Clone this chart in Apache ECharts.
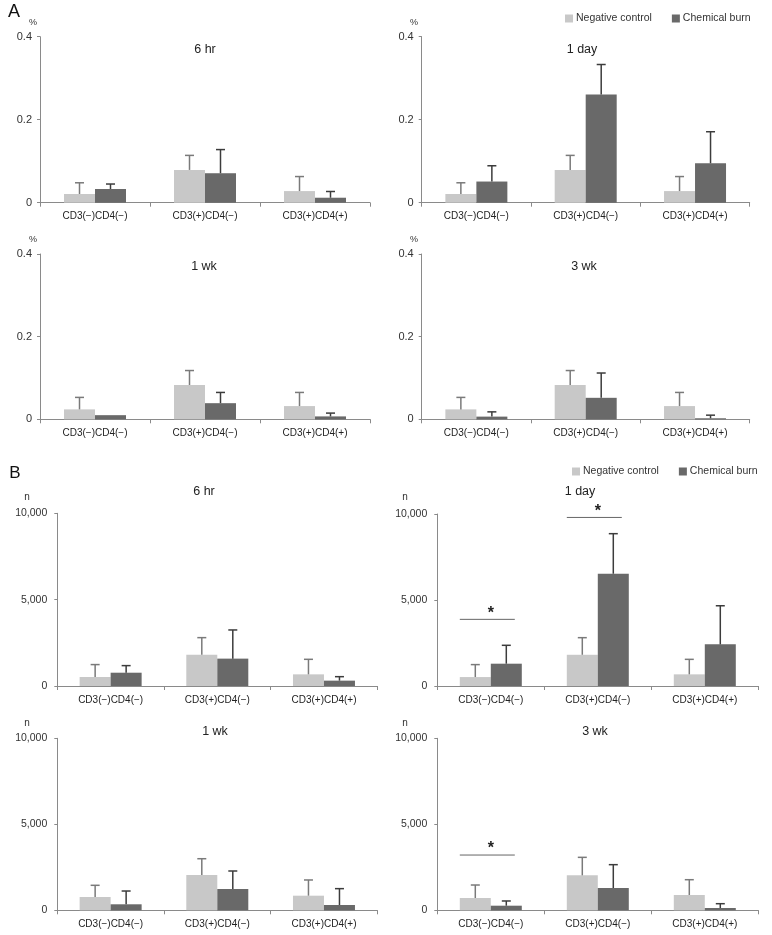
<!DOCTYPE html>
<html>
<head>
<meta charset="utf-8">
<script src="https://cdn.jsdelivr.net/npm/echarts@6/dist/echarts.min.js"></script>
<style>
html,body{margin:0;padding:0;background:#fff;}
#chart{width:772px;height:935px;}
</style>
</head>
<body>
<div id="chart"></div>
<script>
// ---------- data ----------
const categories = ['CD3(\u2212)CD4(\u2212)', 'CD3(+)CD4(\u2212)', 'CD3(+)CD4(+)'];
const seriesNames = ['Negative control', 'Chemical burn'];
const panelTitles = ['6 hr', '1 day', '1 wk', '3 wk'];
const yTicksA = [0, 0.2, 0.4];
const yTickLabelsA = ['0', '0.2', '0.4'];
const yTicksB = [0, 5000, 10000];
const yTickLabelsB = ['0', '5,000', '10,000'];

// Panel A (%)  — mean and top of error bar
const pct6hrNeg = [0.021, 0.079, 0.028];
const pct6hrNegTop = [0.048, 0.114, 0.063];
const pct6hrBurn = [0.033, 0.071, 0.012];
const pct6hrBurnTop = [0.045, 0.128, 0.027];

const pct1dNeg = [0.021, 0.079, 0.028];
const pct1dNegTop = [0.048, 0.114, 0.063];
const pct1dBurn = [0.051, 0.261, 0.095];
const pct1dBurnTop = [0.089, 0.333, 0.171];

const pct1wNeg = [0.024, 0.083, 0.032];
const pct1wNegTop = [0.053, 0.118, 0.065];
const pct1wBurn = [0.010, 0.039, 0.007];
const pct1wBurnTop = [0.010, 0.065, 0.015];

const pct3wNeg = [0.024, 0.083, 0.032];
const pct3wNegTop = [0.053, 0.118, 0.065];
const pct3wBurn = [0.0065, 0.052, 0.0025];
const pct3wBurnTop = [0.018, 0.112, 0.010];

// Panel B (n)
const n6hrNeg = [520, 1810, 675];
const n6hrNegTop = [1240, 2800, 1545];
const n6hrBurn = [770, 1585, 310];
const n6hrBurnTop = [1180, 3245, 540];

const n1dNeg = [520, 1815, 678];
const n1dNegTop = [1244, 2810, 1550];
const n1dBurn = [1297, 6527, 2421];
const n1dBurnTop = [2366, 8856, 4665];

const n1wNeg = [775, 2051, 850];
const n1wNegTop = [1453, 2999, 1763];
const n1wBurn = [349, 1238, 308];
const n1wBurnTop = [1121, 2285, 1259];

const n3wNeg = [715, 2033, 889];
const n3wNegTop = [1470, 3079, 1779];
const n3wBurn = [268, 1296, 134];
const n3wBurnTop = [542, 2653, 384];

// significance markers: [category index, line level]
const sig1d = [[0, 3875], [1, 9800]];
const sig3w = [[0, 3213]];

// ---------- layout / style ----------
const FONT = '"Liberation Sans", Arial, Helvetica, sans-serif';
const LIGHT = '#c8c8c8', DARK = '#696969';
const AXIS = '#8a8a8a';
const BARW = 31;

const panels = [
  {neg: pct6hrNeg, negTop: pct6hrNegTop, burn: pct6hrBurn, burnTop: pct6hrBurnTop, kind: 'A', title: panelTitles[0], sig: null,
   grid: {left: 40, top: 36.7, width: 330, height: 166}, tx: 205, ty: 50, ux: 33, uy: 23},
  {neg: pct1dNeg, negTop: pct1dNegTop, burn: pct1dBurn, burnTop: pct1dBurnTop, kind: 'A', title: panelTitles[1], sig: null,
   grid: {left: 421.7, top: 36.7, width: 328, height: 166}, tx: 582, ty: 50, ux: 414, uy: 23},
  {neg: pct1wNeg, negTop: pct1wNegTop, burn: pct1wBurn, burnTop: pct1wBurnTop, kind: 'A', title: panelTitles[2], sig: null,
   grid: {left: 40, top: 254, width: 330, height: 165.3}, tx: 204, ty: 267, ux: 33, uy: 240},
  {neg: pct3wNeg, negTop: pct3wNegTop, burn: pct3wBurn, burnTop: pct3wBurnTop, kind: 'A', title: panelTitles[3], sig: null,
   grid: {left: 421.7, top: 254, width: 328, height: 165.3}, tx: 584, ty: 267, ux: 414, uy: 240},
  {neg: n6hrNeg, negTop: n6hrNegTop, burn: n6hrBurn, burnTop: n6hrBurnTop, kind: 'B', title: panelTitles[0], sig: null,
   grid: {left: 57.3, top: 513.3, width: 320, height: 172.7}, tx: 204, ty: 492, ux: 27, uy: 497},
  {neg: n1dNeg, negTop: n1dNegTop, burn: n1dBurn, burnTop: n1dBurnTop, kind: 'B', title: panelTitles[1], sig: sig1d,
   grid: {left: 437.3, top: 514, width: 321, height: 172}, tx: 580, ty: 492, ux: 405, uy: 497},
  {neg: n1wNeg, negTop: n1wNegTop, burn: n1wBurn, burnTop: n1wBurnTop, kind: 'B', title: panelTitles[2], sig: null,
   grid: {left: 57.3, top: 738.3, width: 320, height: 172}, tx: 215, ty: 732, ux: 27, uy: 723},
  {neg: n3wNeg, negTop: n3wNegTop, burn: n3wBurn, burnTop: n3wBurnTop, kind: 'B', title: panelTitles[3], sig: sig3w,
   grid: {left: 437.3, top: 738.3, width: 321, height: 172}, tx: 595, ty: 732, ux: 405, uy: 723}
];

const grids = [], xAxes = [], yAxes = [], series = [], graphics = [];

function errRender(offset, color) {
  return function (params, api) {
    const cat = api.value(0), v = api.value(1), t = api.value(2);
    if (!(t > v)) return null;
    const p0 = api.coord([cat, v]);
    const p1 = api.coord([cat, t]);
    const x = p0[0] + offset;
    const style = {stroke: color, lineWidth: 1.5};
    return {
      type: 'group',
      children: [
        {type: 'line', shape: {x1: x, y1: p0[1], x2: x, y2: p1[1]}, style: style},
        {type: 'line', shape: {x1: x - 4.5, y1: p1[1], x2: x + 4.5, y2: p1[1]}, style: style}
      ]
    };
  };
}

function sigRender(params, api) {
  const cat = api.value(0), lvl = api.value(1);
  const p = api.coord([cat, lvl]);
  return {
    type: 'group',
    children: [
      {type: 'line', shape: {x1: p[0] - 31, y1: p[1], x2: p[0] + 24, y2: p[1]}, style: {stroke: '#666', lineWidth: 1}},
      {type: 'text', style: {x: p[0], y: p[1] - 6, text: '*', fill: '#222', font: 'bold 16px ' + FONT, textAlign: 'center', textVerticalAlign: 'middle'}}
    ]
  };
}

panels.forEach(function (pn, i) {
  grids.push(Object.assign({containLabel: false}, pn.grid));
  const isA = pn.kind === 'A';
  const ticks = isA ? yTicksA : yTicksB;
  const tickLabels = isA ? yTickLabelsA : yTickLabelsB;
  xAxes.push({
    type: 'category', gridIndex: i, data: categories,
    axisLine: {show: true, lineStyle: {color: AXIS, width: 1}},
    axisTick: {show: true, length: 4, lineStyle: {color: AXIS}},
    axisLabel: {color: '#222', fontSize: 10, fontFamily: FONT, margin: 9},
    splitLine: {show: false}
  });
  yAxes.push({
    type: 'value', gridIndex: i, min: ticks[0], max: ticks[ticks.length - 1], interval: ticks[1] - ticks[0],
    axisLine: {show: true, lineStyle: {color: AXIS, width: 1}},
    axisTick: {show: true, length: 3, lineStyle: {color: AXIS}},
    axisLabel: {color: '#333', fontSize: isA ? 11 : 10.5, fontFamily: FONT, margin: isA ? 8 : 10,
      formatter: function (v) { const k = ticks.indexOf(v); return k >= 0 ? tickLabels[k] : ''; }},
    splitLine: {show: false}
  });
  series.push({
    name: seriesNames[0], type: 'bar', xAxisIndex: i, yAxisIndex: i, data: pn.neg,
    barWidth: BARW, barGap: '0%', itemStyle: {color: LIGHT}, silent: true
  });
  series.push({
    name: seriesNames[1], type: 'bar', xAxisIndex: i, yAxisIndex: i, data: pn.burn,
    barWidth: BARW, barGap: '0%', itemStyle: {color: DARK}, silent: true
  });
  series.push({
    name: 'err-neg-' + i, type: 'custom', xAxisIndex: i, yAxisIndex: i, z: 5, silent: true,
    renderItem: errRender(-BARW / 2, '#7a7a7a'),
    encode: {x: 0, y: [1, 2]},
    data: pn.neg.map(function (v, k) { return [k, v, pn.negTop[k]]; })
  });
  series.push({
    name: 'err-burn-' + i, type: 'custom', xAxisIndex: i, yAxisIndex: i, z: 5, silent: true,
    renderItem: errRender(BARW / 2, '#3c3c3c'),
    encode: {x: 0, y: [1, 2]},
    data: pn.burn.map(function (v, k) { return [k, v, pn.burnTop[k]]; })
  });
  if (pn.sig) {
    series.push({
      name: 'sig-' + i, type: 'custom', xAxisIndex: i, yAxisIndex: i, z: 6, silent: true,
      renderItem: sigRender, encode: {x: 0, y: 1}, data: pn.sig
    });
  }
  graphics.push({type: 'text', x: pn.tx, y: pn.ty, silent: true,
    style: {text: pn.title, fill: '#222', font: '12.5px ' + FONT, textAlign: 'center', textVerticalAlign: 'middle'}});
  graphics.push({type: 'text', x: pn.ux, y: pn.uy, silent: true,
    style: {text: isA ? '%' : 'n', fill: '#333', font: (isA ? '9px ' : '10px ') + FONT, textAlign: 'center', textVerticalAlign: 'middle'}});
});

graphics.push({type: 'text', x: 14, y: 12, silent: true,
  style: {text: 'A', fill: '#111', font: '18px ' + FONT, textAlign: 'center', textVerticalAlign: 'middle'}});
graphics.push({type: 'text', x: 15, y: 473, silent: true,
  style: {text: 'B', fill: '#111', font: '17px ' + FONT, textAlign: 'center', textVerticalAlign: 'middle'}});

const legendCommon = {
  data: seriesNames, icon: 'rect', itemWidth: 8, itemHeight: 8, itemGap: 20, selectedMode: false,
  textStyle: {color: '#333', fontSize: 10.5, fontFamily: FONT, padding: [0, 0, 0, -2]}
};

const chart = echarts.init(document.getElementById('chart'), null, {renderer: 'canvas'});
chart.setOption({
  animation: false,
  backgroundColor: '#fff',
  textStyle: {fontFamily: FONT},
  legend: [
    Object.assign({left: 560, top: 8}, legendCommon),
    Object.assign({left: 567, top: 461}, legendCommon)
  ],
  grid: grids,
  xAxis: xAxes,
  yAxis: yAxes,
  series: series,
  graphic: graphics
});
</script>
</body>
</html>
